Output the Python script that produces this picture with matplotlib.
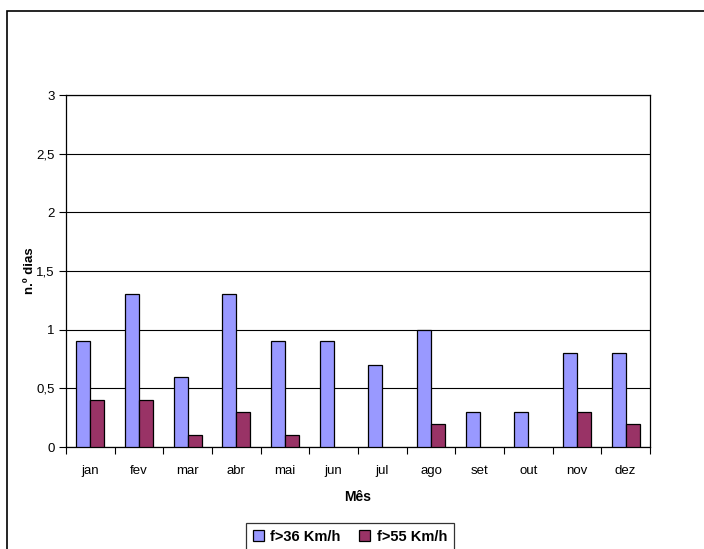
import matplotlib
matplotlib.use("Agg")
import matplotlib.pyplot as plt
from matplotlib.patches import Rectangle
from matplotlib.ticker import FuncFormatter, MultipleLocator
import numpy as np

plt.rcParams['font.family'] = ['Liberation Sans', 'DejaVu Sans']

months = ['jan', 'fev', 'mar', 'abr', 'mai', 'jun', 'jul', 'ago', 'set', 'out', 'nov', 'dez']
f36 = [0.9, 1.3, 0.6, 1.3, 0.9, 0.9, 0.7, 1.0, 0.3, 0.3, 0.8, 0.8]
f55 = [0.4, 0.4, 0.1, 0.3, 0.1, 0.0, 0.0, 0.2, 0.0, 0.0, 0.3, 0.2]
series_labels = ['f>36 Km/h', 'f>55 Km/h']

W, H = 704, 549
fig = plt.figure(figsize=(W / 100, H / 100), dpi=100)

# outer chart frame (runs past the right and bottom edges)
fig.patches.append(Rectangle((7 / W, -0.1), 1.2, (H - 11) / H + 0.1,
                             transform=fig.transFigure, fill=False,
                             edgecolor='black', linewidth=1.2))

left, right, top, bottom = 66, 650, 95, 447
ax = fig.add_axes([left / W, 1 - bottom / H, (right - left) / W, (bottom - top) / H])

x = np.arange(len(months))
bw = 0.29


def edge_widths(vals):
    return [0.9 if v > 0 else 0 for v in vals]


ax.bar(x - bw / 2, f36, width=bw, color='#9999FF', edgecolor='black',
       linewidth=edge_widths(f36), label=series_labels[0], zorder=3)
ax.bar(x + bw / 2, f55, width=bw, color='#993366', edgecolor='black',
       linewidth=edge_widths(f55), label=series_labels[1], zorder=3)

ax.set_xlim(-0.5, len(months) - 0.5)
ax.set_ylim(0, 3)
ax.yaxis.set_major_locator(MultipleLocator(0.5))
ax.yaxis.set_major_formatter(FuncFormatter(lambda v, p: ('%g' % v).replace('.', ',')))
ax.yaxis.grid(True, color='black', linewidth=0.8, zorder=0)

ax.set_xticks(x)
ax.set_xticklabels(months)
ax.set_xticks(np.arange(-0.5, len(months)), minor=True)
ax.tick_params(axis='x', which='major', length=0, pad=13, labelsize=9.5)
ax.tick_params(axis='x', which='minor', length=5, direction='out', width=0.8)
ax.tick_params(axis='y', length=5, direction='out', width=0.8, labelsize=9.5, pad=3)

for s in ax.spines.values():
    s.set_color('black')
    s.set_linewidth(0.9)

ax.set_xlabel('Mês', fontweight='bold', fontsize=10)
ax.xaxis.set_label_coords(0.5, -(490 - bottom) / (bottom - top))
ax.set_ylabel('n.º dias', fontweight='bold', fontsize=9.5)
ax.yaxis.set_label_coords(-(left - 36) / (right - left), 0.5)

leg = fig.legend(loc='upper center', bbox_to_anchor=(350 / W, 1 - 523 / H),
                 ncol=2, frameon=True, fancybox=False, edgecolor='black',
                 prop={'weight': 'bold', 'size': 10.5}, handlelength=0.75,
                 handleheight=0.75, handletextpad=0.45, columnspacing=1.3,
                 borderpad=0.45, borderaxespad=0)
leg.get_frame().set_linewidth(0.9)

fig.savefig('out.png', dpi=100)
